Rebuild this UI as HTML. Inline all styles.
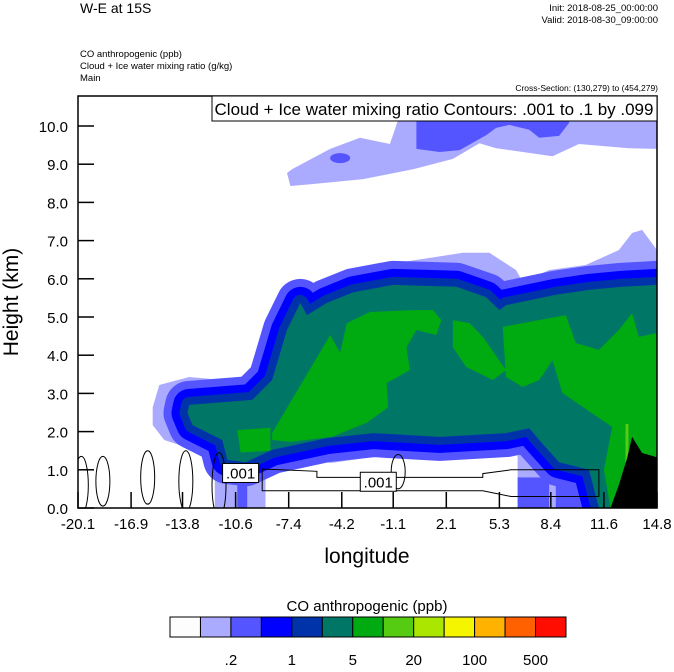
<!DOCTYPE html>
<html><head><meta charset="utf-8">
<style>
body{margin:0;background:#fff;font-family:"Liberation Sans",sans-serif;}
svg text{font-family:"Liberation Sans",sans-serif;fill:#000;}
</style></head>
<body>
<svg id="chart" width="674" height="667" viewBox="0 0 674 667">
<text x="80" y="13" font-size="14">W-E at 15S</text>
<text x="658" y="11" font-size="9.5" text-anchor="end">Init: 2018-08-25_00:00:00</text>
<text x="658" y="23" font-size="9.5" text-anchor="end">Valid: 2018-08-30_09:00:00</text>
<text x="80" y="57" font-size="9.5">CO anthropogenic   (ppb)</text>
<text x="80" y="69" font-size="9.5">Cloud + Ice water mixing ratio   (g/kg)</text>
<text x="80" y="81" font-size="9.5">Main</text>
<text x="658" y="91" font-size="8.5" text-anchor="end">Cross-Section: (130,279) to (454,279)</text>
<defs><clipPath id="pc"><rect x="78" y="96" width="579" height="412"/></clipPath></defs>
<g id="plot" clip-path="url(#pc)"></g>
<g id="axes"></g>
<rect x="212" y="96" width="445" height="25" fill="#fff" stroke="#000" stroke-width="1"/>
<text x="434" y="115" font-size="17" text-anchor="middle">Cloud + Ice water mixing ratio Contours: .001 to .1 by .099</text>
<text transform="translate(18,302) rotate(-90)" font-size="21" text-anchor="middle">Height (km)</text>
<text x="367" y="563" font-size="21" text-anchor="middle">longitude</text>
<text x="367" y="611" font-size="15" text-anchor="middle">CO anthropogenic  (ppb)</text>
<g id="legend"></g>
</svg>
<script>
const xTicks=[-20.1,-16.9,-13.8,-10.6,-7.4,-4.2,-1.1,2.1,5.3,8.4,11.6,14.8];
const yTicks=[0,1,2,3,4,5,6,7,8,9,10];
const legendColors=["#fdfdfd","#aaaaff","#5555ff","#0000ff","#0033aa","#007766","#00aa11","#55cc11","#aae600","#f5f500","#ffb300","#ff6000","#ff0d00"];
const legendLabels=[".2","1","5","20","100","500"];
const outerCloud=[[-15.6,2.64],[-15.2,3.22],[-13.4,3.43],[-9.3,3.27],[-8.4,4.06],[-7.9,5.0],[-6.9,5.84],[-6.0,5.71],[-5.1,5.52],[-3.9,5.79],[-1.7,6.36],[3.1,6.68],[4.7,6.68],[6.3,6.23],[6.7,5.92],[8.3,6.23],[10.5,6.36],[12.5,6.75],[13.3,7.2],[13.9,7.28],[14.8,6.75],[14.8,0],[6.4,0],[6.4,1.44],[5.7,1.60],[-0.1,1.47],[-4.8,1.18],[-8.8,1.31],[-8.8,0],[-11.85,0],[-11.85,1.34],[-14.9,1.78],[-15.6,2.17]];
const tealCore=[[-13.5,2.49],[-13.4,2.70],[-9.6,2.83],[-8.4,3.35],[-7.5,4.66],[-6.7,5.37],[-6.3,5.05],[-5.1,5.37],[-3.5,5.65],[-1.1,5.84],[2.7,5.79],[4.5,5.52],[5.3,5.18],[5.7,5.31],[8.7,5.58],[10.7,5.71],[12.7,5.79],[14.8,5.84],[14.8,0],[11.3,0],[10.7,1.0],[8.9,1.2],[7.7,1.78],[7.1,2.09],[5.7,1.96],[1.7,1.86],[-2.3,1.96],[-5.1,1.83],[-8.4,1.52],[-10.0,1.20],[-11.1,1.26],[-11.4,1.78],[-13.2,2.17]];
const greenA=[[-8.4,1.96],[-4.9,4.53],[-4.3,4.06],[-3.9,4.84],[-2.5,5.13],[0.1,5.18],[1.3,5.18],[1.8,4.92],[1.5,4.53],[0.3,4.66],[-0.3,4.21],[-0.1,3.61],[-1.5,3.27],[-1.4,2.64],[-2.7,2.23],[-4.8,1.86],[-7.3,1.73],[-8.4,1.78]];
const greenB=[[-10.5,2.04],[-8.5,2.1],[-8.5,1.5],[-10.3,1.45]];
const greenC=[[2.5,4.92],[3.5,4.84],[4.3,4.48],[5.7,3.61],[4.9,3.35],[3.3,3.69],[2.5,4.21]];
const greenD=[[5.5,4.74],[9.3,5.05],[9.9,4.32],[11.3,4.14],[12.5,4.66],[13.3,5.10],[13.7,4.48],[14.8,4.58],[14.8,0],[12.0,0],[11.6,1.0],[12.1,2.12],[9.1,3.01],[8.5,3.87],[7.7,3.35],[6.7,3.17],[5.7,3.43]];
const terrain=[[12.0,0],[12.5,0.6],[13.0,1.3],[13.3,1.86],[13.9,1.44],[14.8,1.33],[14.8,0]];
const upperCloud=[[-7.5,8.77],[-7.3,8.43],[-6.0,8.48],[-2.9,8.61],[0.1,8.87],[2.5,9.14],[4.1,9.55],[5.1,9.42],[8.5,9.21],[10.1,9.53],[13.1,9.42],[14.8,9.40],[14.8,10.8],[-0.3,10.8],[-1.3,9.53],[-3.1,9.69],[-4.9,9.40],[-7.2,8.87]];
const upperCore=[[0.3,9.40],[0.3,10.8],[9.5,10.8],[9.5,10.08],[8.9,9.74],[7.7,9.69],[7.1,9.90],[5.9,10.03],[5.1,9.95],[4.5,9.76],[2.9,9.37],[1.7,9.32]];
const lowColumns=[[-11.85,-8.8,1.3,"#aaaaff"],[-10.5,-9.9,1.2,"#5555ff"],[6.4,8.3,0.8,"#5555ff"],[8.7,10.7,0.8,"#5555ff"],[10.6,11.7,1.0,"#0000ff"]];
const contourLoop=[[-9.0,1.02],[-5.7,0.96],[-5.7,0.8],[4.3,0.8],[4.3,0.9],[6.0,1.0],[11.3,1.0],[11.3,0.3],[6.0,0.3],[4.3,0.45],[-9.0,0.45]];
const contourSmall=[[-19.9,0.6,1.5],[-18.6,0.7,1.3],[-15.9,0.8,1.4],[-13.6,0.7,1.6],[-11.6,0.6,1.7],[-0.8,0.95,0.9]];

const X0=78,X1=657,Y0=508,Y1=126;
const xs=v=>X0+(v-(-20.1))/(14.8-(-20.1))*(X1-X0);
const ys=v=>Y0-(v-0)/(10-0)*(Y0-Y1);
const NS="http://www.w3.org/2000/svg";
const plot=document.getElementById('plot'),axes=document.getElementById('axes'),leg=document.getElementById('legend');
function pts(a){return a.map(p=>xs(p[0]).toFixed(1)+","+ys(p[1]).toFixed(1)).join(" ");}
function poly(parent,a,fill,name,stroke,sw){const e=document.createElementNS(NS,'polygon');e.setAttribute('points',pts(a));e.setAttribute('fill',fill);if(stroke){e.setAttribute('stroke',stroke);e.setAttribute('stroke-width',sw);e.setAttribute('stroke-linejoin','round');}


parent.appendChild(e);return e;}
poly(plot,upperCloud,"#aaaaff","upper-cloud-light");
poly(plot,upperCore,"#5555ff","upper-cloud-core");
const dot=document.createElementNS(NS,'ellipse');dot.setAttribute('cx',xs(-4.3));dot.setAttribute('cy',ys(9.16));dot.setAttribute('rx',10);dot.setAttribute('ry',5);dot.setAttribute('fill','#5555ff');


plot.appendChild(dot);
poly(plot,outerCloud,"#aaaaff","co-band-0.2");
lowColumns.forEach(c=>{const r=document.createElementNS(NS,'rect');r.setAttribute('x',xs(c[0]));r.setAttribute('width',xs(c[1])-xs(c[0]));r.setAttribute('y',ys(c[2]));r.setAttribute('height',ys(0)-ys(c[2]));r.setAttribute('fill',c[3]);


plot.appendChild(r);});
poly(plot,tealCore,"none","co-band-0.5","#5555ff",48);
poly(plot,tealCore,"none","co-band-1","#0000ff",32);
poly(plot,tealCore,"none","co-band-2","#0033aa",16);
poly(plot,tealCore,"#007766","co-band-5");
[greenA,greenB,greenC,greenD].forEach((g,i)=>poly(plot,g,"#00aa11","co-band-10-"+i));
const lg=document.createElementNS(NS,'rect');lg.setAttribute('x',xs(12.9));lg.setAttribute('y',ys(2.2));lg.setAttribute('width',3);lg.setAttribute('height',ys(0.9)-ys(2.2));lg.setAttribute('fill','#55cc11');


plot.appendChild(lg);
poly(plot,terrain,"#000","terrain");
const cl=document.createElementNS(NS,'polygon');cl.setAttribute('points',pts(contourLoop));cl.setAttribute('fill','none');cl.setAttribute('stroke','#000');cl.setAttribute('stroke-width','1');


plot.appendChild(cl);
contourSmall.forEach(c=>{const e=document.createElementNS(NS,'ellipse');e.setAttribute('cx',xs(c[0]));e.setAttribute('cy',ys(c[1]));e.setAttribute('rx',7);e.setAttribute('ry',ys(0)-ys(c[2]/2));e.setAttribute('fill','none');e.setAttribute('stroke','#000');e.setAttribute('stroke-width','1');


plot.appendChild(e);});
[[-10.3,0.93],[-2.0,0.70]].forEach(p=>{const g=document.createElementNS(NS,'g');


const r=document.createElementNS(NS,'rect');r.setAttribute('x',xs(p[0])-18);r.setAttribute('y',ys(p[1])-9);r.setAttribute('width',36);r.setAttribute('height',19);r.setAttribute('fill','#fff');r.setAttribute('stroke','#000');g.appendChild(r);
const t=document.createElementNS(NS,'text');t.setAttribute('x',xs(p[0]));t.setAttribute('y',ys(p[1])+6);t.setAttribute('font-size','15');t.setAttribute('text-anchor','middle');t.textContent='.001';g.appendChild(t);plot.appendChild(g);});
const fr=document.createElementNS(NS,'rect');fr.setAttribute('x',X0);fr.setAttribute('y',96);fr.setAttribute('width',X1-X0);fr.setAttribute('height',Y0-96);fr.setAttribute('fill','none');fr.setAttribute('stroke','#000');fr.setAttribute('stroke-width','1.5');


axes.appendChild(fr);
xTicks.forEach(v=>{const l=document.createElementNS(NS,'line');l.setAttribute('x1',xs(v));l.setAttribute('x2',xs(v));l.setAttribute('y1',Y0);l.setAttribute('y2',Y0-16);l.setAttribute('stroke','#000');l.setAttribute('stroke-width','1.5');


axes.appendChild(l);
const t=document.createElementNS(NS,'text');t.setAttribute('x',xs(v));t.setAttribute('y',Y0+21);t.setAttribute('font-size','15');t.setAttribute('text-anchor','middle');t.textContent=v.toFixed(1);


axes.appendChild(t);});
yTicks.forEach(v=>{const l=document.createElementNS(NS,'line');l.setAttribute('x1',X0);l.setAttribute('x2',X0+16);l.setAttribute('y1',ys(v));l.setAttribute('y2',ys(v));l.setAttribute('stroke','#000');l.setAttribute('stroke-width','1.5');


axes.appendChild(l);
const t=document.createElementNS(NS,'text');t.setAttribute('x',X0-10);t.setAttribute('y',ys(v)+6);t.setAttribute('font-size','15');t.setAttribute('text-anchor','end');t.textContent=v.toFixed(1);


axes.appendChild(t);});
const LX=170,LW=396/legendColors.length;
legendColors.forEach((c,i)=>{const r=document.createElementNS(NS,'rect');r.setAttribute('x',LX+i*LW);r.setAttribute('y',617);r.setAttribute('width',LW);r.setAttribute('height',20);r.setAttribute('fill',c);r.setAttribute('stroke','#000');r.setAttribute('stroke-width','1');


leg.appendChild(r);});
legendLabels.forEach((s,i)=>{const t=document.createElementNS(NS,'text');t.setAttribute('x',LX+(2+2*i)*LW);t.setAttribute('y',665);t.setAttribute('font-size','15');t.setAttribute('text-anchor','middle');t.textContent=s;


leg.appendChild(t);});
</script>
</body></html>
